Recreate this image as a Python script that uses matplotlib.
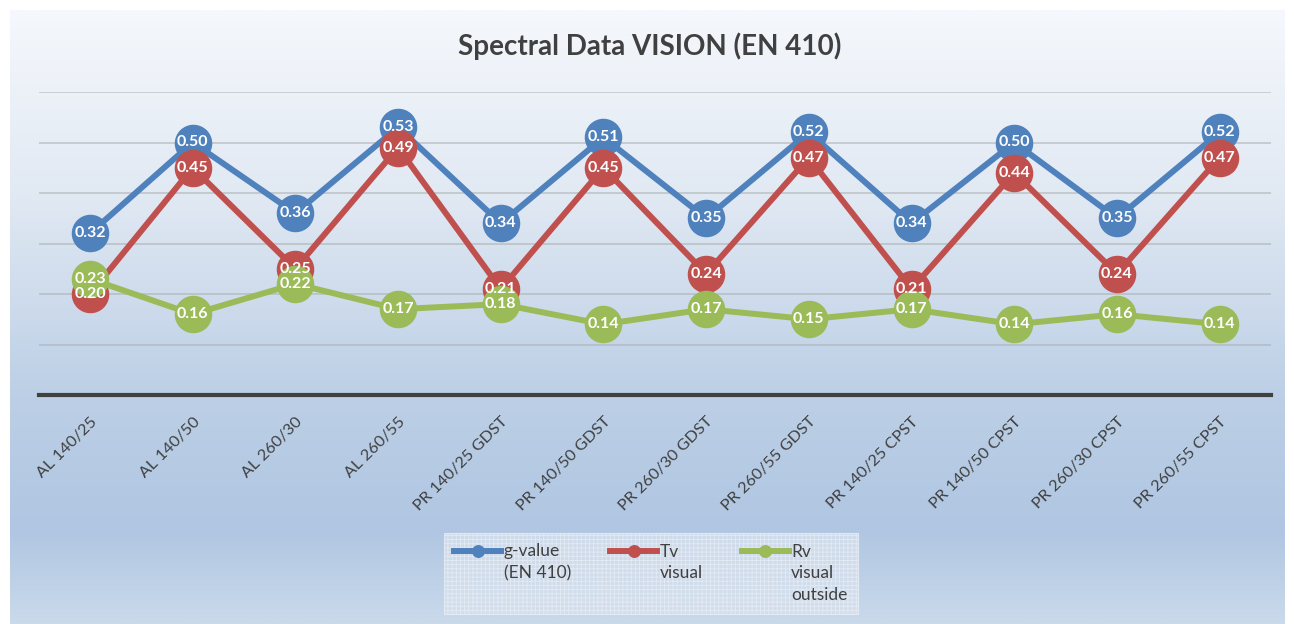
import numpy as np
import matplotlib
matplotlib.use("Agg")
import matplotlib.pyplot as plt
from matplotlib.colors import LinearSegmentedColormap
from matplotlib.legend_handler import HandlerLine2D

# -----------------------------
# Data
# -----------------------------
categories = [
    "AL 140/25", "AL 140/50", "AL 260/30", "AL 260/55",
    "PR 140/25 GDST", "PR 140/50 GDST", "PR 260/30 GDST", "PR 260/55 GDST",
    "PR 140/25 CPST", "PR 140/50 CPST", "PR 260/30 CPST", "PR 260/55 CPST",
]
g_value = [0.32, 0.50, 0.36, 0.53, 0.34, 0.51, 0.35, 0.52, 0.34, 0.50, 0.35, 0.52]
tv_visual = [0.20, 0.45, 0.25, 0.49, 0.21, 0.45, 0.24, 0.47, 0.21, 0.44, 0.24, 0.47]
rv_outside = [0.23, 0.16, 0.22, 0.17, 0.18, 0.14, 0.17, 0.15, 0.17, 0.14, 0.16, 0.14]

series_labels = ["g-value\n(EN 410)", "Tv\nvisual", "Rv\nvisual\noutside"]
series_colors = ["#4f81bd", "#c0504d", "#9bbb59"]

plt.rcParams["font.family"] = ["Lato", "DejaVu Sans"]
plt.rcParams["hatch.linewidth"] = 0.6
TEXT = "#404040"
LEG_FS = 12.5
LEG_LS = 1.45
NLINES = max(lab.count("\n") + 1 for lab in series_labels)


# legend handle sits on the first text line, like Excel does
class TopLineHandler(HandlerLine2D):
    def create_artists(self, legend, orig_handle, xdescent, ydescent,
                       width, height, fontsize, trans):
        arts = super().create_artists(legend, orig_handle, xdescent, ydescent,
                                      width, height, fontsize, trans)
        shift = (NLINES - 1) / 2 * fontsize * LEG_LS * 0.9
        for a in arts:
            a.set_ydata(np.asarray(a.get_ydata()) + shift)
        return arts


W, H = 1294, 624
fig = plt.figure(figsize=(W / 100, H / 100), dpi=100)
fig.patch.set_facecolor("white")

# -----------------------------
# Gradient background panel
# -----------------------------
bg = fig.add_axes([10 / W, 0, 1275 / W, 614 / H], zorder=0)
bg.axis("off")
grad = LinearSegmentedColormap.from_list(
    "bg",
    [(0.0, "#f5f8fc"), (0.3, "#e1e9f3"), (0.63, "#bccfe6"),
     (0.85, "#b0c6e2"), (1.0, "#cadaeb")],
)
bg.imshow(np.linspace(0, 1, 256).reshape(-1, 1), aspect="auto", cmap=grad,
          extent=[0, 1, 0, 1])

# -----------------------------
# Main plot
# -----------------------------
ax = fig.add_axes([38.6 / W, 1 - 395 / H, (1271 - 38.6) / W, (395 - 92) / H], zorder=1)
ax.patch.set_alpha(0)
x = np.arange(len(categories))

lines = []
for vals, lab, col, z in zip([g_value, tv_visual, rv_outside], series_labels,
                             series_colors, [3, 4, 5]):
    ln, = ax.plot(x, vals, color=col, lw=4.3, marker="o", markersize=26,
                  label=lab, zorder=z, clip_on=False)
    lines.append(ln)

for vals in [g_value, tv_visual, rv_outside]:
    for xi, v in zip(x, vals):
        ax.text(xi, v, f"{v:.2f}", ha="center", va="center", color="white",
                fontsize=11.5, fontweight="bold", zorder=10)

ax.set_xlim(-0.5, len(categories) - 0.5)
ax.set_ylim(0, 0.6)
ax.set_yticks([0.1, 0.2, 0.3, 0.4, 0.5, 0.6])
ax.yaxis.grid(True, color="#a6a6a6", lw=1.2, alpha=0.55)
ax.set_axisbelow(True)
ax.tick_params(axis="y", left=False, labelleft=False)
for s in ["top", "right", "left"]:
    ax.spines[s].set_visible(False)
ax.spines["bottom"].set_color(TEXT)
ax.spines["bottom"].set_linewidth(3)
ax.spines["bottom"].set_zorder(2)

ax.set_xticks(x)
ax.set_xticklabels(categories, rotation=45, ha="right", va="top",
                   rotation_mode="anchor", color=TEXT, fontsize=11.8)
ax.tick_params(axis="x", length=0, pad=14)

fig.text(650 / W, 1 - 46 / H, "Spectral Data VISION (EN 410)", ha="center",
         va="center", fontsize=20, fontweight="bold", color=TEXT)

# pad labels to the same number of lines so all columns start at the top
leg_labels = [lab + "\n " * (NLINES - 1 - lab.count("\n")) for lab in series_labels]
hmap = {ln: TopLineHandler() for ln in lines}
leg = ax.legend(lines, leg_labels, loc="upper center",
                bbox_to_anchor=(651 / W, 1 - 533 / H),
                bbox_transform=fig.transFigure, ncol=3, frameon=True,
                fontsize=LEG_FS, handlelength=2.7, handletextpad=0.15,
                columnspacing=2.25, markerscale=0.32, borderpad=0.6,
                borderaxespad=0, fancybox=False, handler_map=hmap)
fr = leg.get_frame()
fr.set_facecolor("#d6e0ed")
fr.set_edgecolor("#e8eef6")
fr.set_hatch("++++")
fr.set_linewidth(0.8)
for t in leg.get_texts():
    t.set_color(TEXT)
    t.set_linespacing(LEG_LS)
for h in leg.get_lines():
    h.set_linewidth(4.3)

fig.savefig("out.png", dpi=100)
